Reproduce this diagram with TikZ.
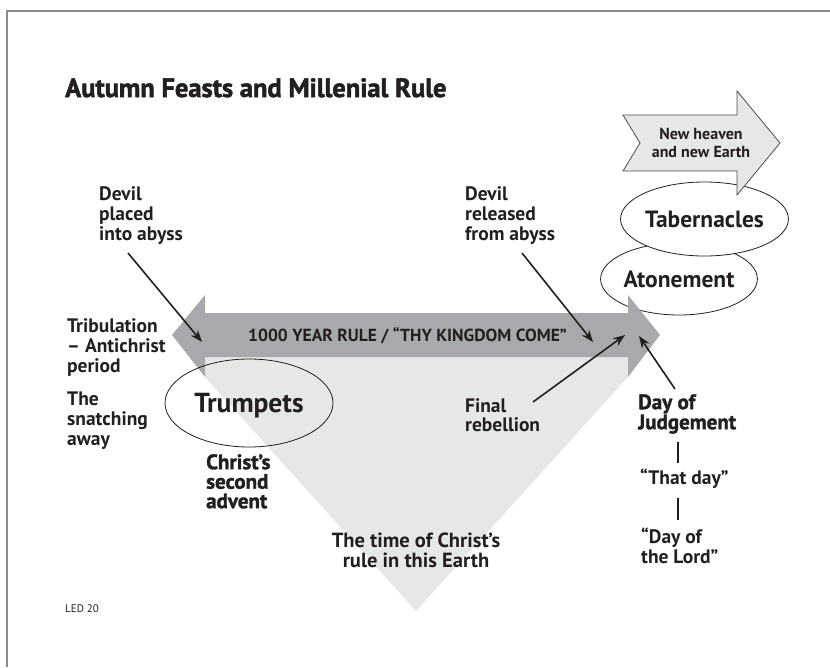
\documentclass[tikz,border=0pt]{standalone}
\usepackage{fontspec}
\setmainfont{PT Sans}
\newfontfamily\heavyfont{PT Sans Bold}[FakeBold=1.5]
\newfontfamily\titlefont{PT Sans Bold}[FakeBold=2]
\usetikzlibrary{arrows.meta,shapes.geometric}

\definecolor{ink}{HTML}{231F20}
\definecolor{shaftgray}{HTML}{A7A9AC}
\definecolor{palegray}{HTML}{E6E7E8}
\definecolor{framegray}{HTML}{8A8A8A}
\definecolor{edgegray}{HTML}{4D4D4D}

% first-line strut: fixes the distance from a label's top to its first baseline
\newcommand\firstln{\rule{0pt}{15pt}}

\begin{document}
\begin{tikzpicture}[x=1pt,y=-1pt,
  semi/.style={font=\fontsize{19.5}{20}\selectfont\bfseries, text=ink, inner sep=0pt},
  heavy/.style={font=\heavyfont\fontsize{21}{19.5}\selectfont, text=ink, inner sep=0pt},
  tl/.style={anchor=north west, align=left},
  pointer/.style={draw=ink, line width=1.6pt, -{Stealth[length=12pt,width=9pt]}},
  feast/.style={draw=ink, line width=0.8pt, ellipse, inner sep=0pt, text=ink, text depth=0pt},
  tick/.style={draw=ink, line width=1.6pt}]

\useasboundingbox (0,0) rectangle (830,667);
\fill[white] (0,0) rectangle (830,667);

% page frame
\draw[framegray, line width=2pt] (7,667) -- (7,11) -- (830,11);

% title
\node[text=ink, inner sep=0pt, font=\titlefont\fontsize{26.5}{26.5}\selectfont, anchor=base west]
  (title) at (65,97) {Autumn Feasts and Millenial Rule};

% the period of the rule: pale triangle under the arrow
\fill[palegray] (205,357) -- (628,357) -- (628,377) -- (416,611) -- (205,377) -- cycle;

% Atonement and Tabernacles
\node[feast, fill=white, minimum width=142pt, minimum height=72pt, text height=16pt,
      font=\fontsize{23.5}{24}\selectfont\bfseries] (atonement) at (679,279) {Atonement};
\node[feast, fill=white, minimum width=143pt, minimum height=74pt, text height=16pt,
      font=\fontsize{23.5}{24}\selectfont\bfseries] (tabernacles) at (704.5,219) {Tabernacles};

% double-headed arrow of the thousand years
\fill[shaftgray] (172,335) -- (205,295) -- (205,313) -- (628,313) -- (628,295) -- (660,335)
  -- (628,377) -- (628,357) -- (205,357) -- (205,377) -- cycle;
\node[font=\fontsize{17.5}{18}\selectfont\bfseries, text=ink, inner sep=0pt, anchor=base] (kingdom)
  at (407.5,341.5) {1000 YEAR RULE / “THY KINGDOM COME”};

% new heaven arrow
\filldraw[fill=palegray, draw=edgegray, line width=0.8pt, line join=miter]
  (623,115) -- (737,115) -- (737,91) -- (780,143) -- (737,195) -- (737,171) -- (623,171)
  -- (640,143) -- cycle;
\node[font=\fontsize{16}{18}\selectfont\bfseries, text=ink, inner sep=0pt, anchor=north, align=center]
  (newearth) at (701,126) {\rule{0pt}{13pt}New heaven\\and new Earth};

% Trumpets
\node[feast, minimum width=168pt, minimum height=88pt, text height=19pt,
      font=\fontsize{27.5}{28}\selectfont\bfseries] (trumpets) at (249,403) {Trumpets};

% labels
\node[semi, tl] (placed) at (99,185) {\firstln Devil\\placed\\into abyss};
\node[semi, tl] (released) at (465,185) {\firstln Devil\\released\\from abyss};
\node[semi, tl] (tribulation) at (67,317) {\firstln Tribulation\\– Antichrist\\period};
\node[semi, tl] (snatching) at (67,390) {\firstln The\\snatching\\away};
\node[heavy, tl] (advent) at (206,454) {\firstln Christ’s\\second\\advent};
\node[semi, tl, font=\fontsize{19.5}{19}\selectfont\bfseries] (rebellion) at (465,397) {\firstln Final\\rebellion};
\node[heavy, tl, font=\heavyfont\fontsize{21}{20}\selectfont] (judgement) at (638,394) {\firstln Day of\\Judgement};
\node[semi, anchor=base west] (thatday) at (640,484) {“That day”};
\node[semi, tl] (lordday) at (641,528) {\firstln “Day of\\the Lord”};
\node[semi, anchor=north, align=center, font=\fontsize{20.5}{20}\selectfont\bfseries] (christrule) at (416,532)
  {\firstln The time of Christ’s\\rule in this Earth};
\node[font=\fontsize{11}{11}\selectfont, text=ink, inner sep=0pt, anchor=base west] (led) at (65,612) {LED 20};

% pointers onto the arrow
\coordinate (placedfrom) at (128,253);   \coordinate (placedto) at (202,342);
\coordinate (releasedfrom) at (522,253); \coordinate (releasedto) at (593,342);
\coordinate (rebelfrom) at (533,402);    \coordinate (rebelto) at (625,335);
\coordinate (judgefrom) at (675,389);    \coordinate (judgeto) at (639,336);
\draw[pointer] (placedfrom) -- (placedto);
\draw[pointer] (releasedfrom) -- (releasedto);
\draw[pointer] (rebelfrom) -- (rebelto);
\draw[pointer] (judgefrom) -- (judgeto);

% links between the names of the day
\coordinate (linkAtop) at (678,442); \coordinate (linkAbot) at (678,463);
\coordinate (linkBtop) at (678,498); \coordinate (linkBbot) at (678,520);
\draw[tick] (linkAtop) -- (linkAbot);
\draw[tick] (linkBtop) -- (linkBbot);
\end{tikzpicture}
\end{document}
